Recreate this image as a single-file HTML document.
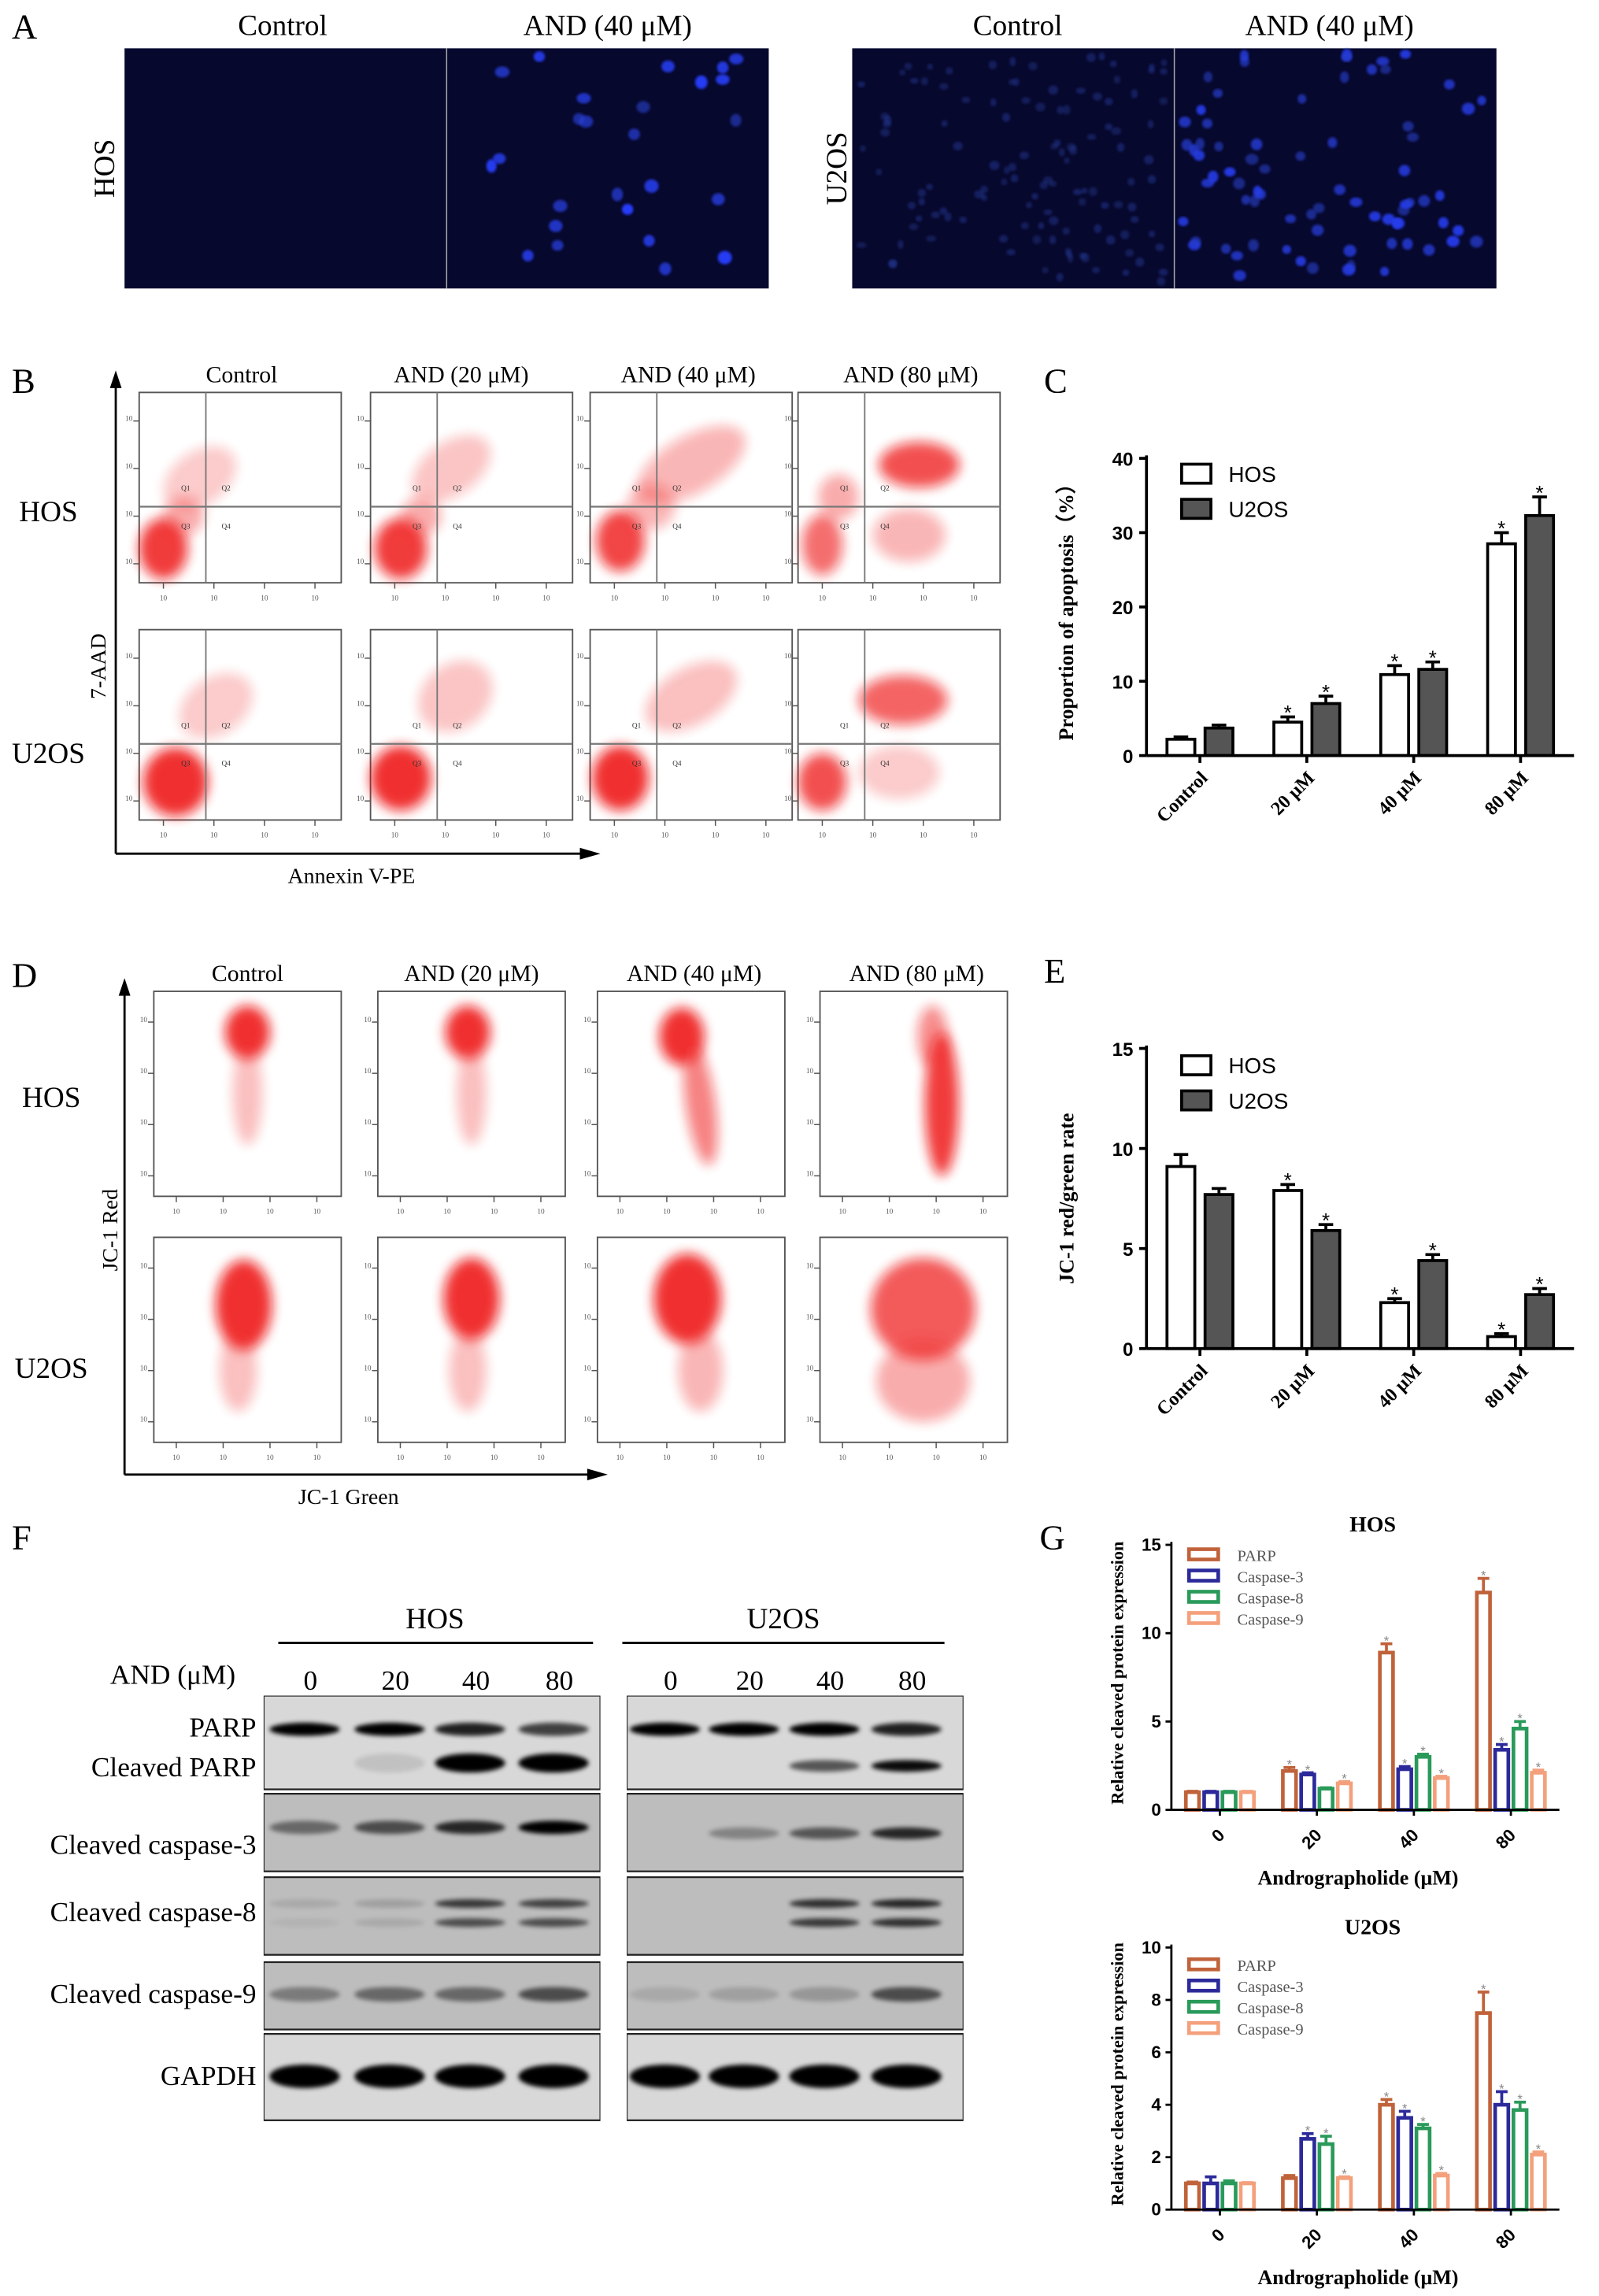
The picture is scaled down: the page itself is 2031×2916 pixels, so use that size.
<!DOCTYPE html>
<html><head><meta charset="utf-8"><style>
html,body{margin:0;padding:0;background:#fff}
svg{display:block}
text{font-family:"Liberation Serif",serif}
.sans{font-family:"Liberation Sans",sans-serif}
</style></head><body>
<svg id="fig" width="2031" height="2916" viewBox="0 0 1092 1568" xmlns="http://www.w3.org/2000/svg">
<defs>
<filter id="blur4" x="-50%" y="-50%" width="200%" height="200%"><feGaussianBlur stdDeviation="4"/></filter>
<filter id="blur2" x="-50%" y="-50%" width="200%" height="200%"><feGaussianBlur stdDeviation="1.6"/></filter>
<filter id="blur1"><feGaussianBlur stdDeviation="0.8"/></filter>
<clipPath id="clipF1"><rect x="180" y="1158" width="230" height="292"/></clipPath>
<clipPath id="clipF2"><rect x="428" y="1158" width="230" height="292"/></clipPath>
</defs>
<g id="root"></g>
</svg>
<script>
const NS="http://www.w3.org/2000/svg";
const root=document.getElementById('root');
function el(tag,attrs,parent,txt){const e=document.createElementNS(NS,tag);for(const k in attrs)e.setAttribute(k,attrs[k]);if(txt!==undefined)e.textContent=txt;(parent||root).appendChild(e);return e;}
function T(x,y,s,size,opts,parent){opts=opts||{};const a={x:x,y:y,'font-size':size,'text-anchor':opts.anchor||'middle',fill:opts.fill||'#000'};if(opts.weight)a['font-weight']=opts.weight;if(opts.cls)a['class']=opts.cls;if(opts.rot)a.transform='rotate('+opts.rot+' '+x+' '+y+')';return el('text',a,parent,s);}

/* ---------- panel letters ---------- */
const letters=[['A',8,26],['B',8,268],['C',713,268],['D',8,674],['E',713,671],['F',8,1058],['G',710,1058]];
letters.forEach(l=>{const t=T(l[1],l[2],l[0],24,{anchor:'start'});

});

/* ---------- Panel A micrographs ---------- */
let seed=7;function rnd(){seed=(seed*16807)%2147483647;return seed/2147483647;}
const aImgs=[[85,'hos-control',0,0.15,3],[305,'hos-and40',26,1,3.5],[582,'u2os-control',120,0.25,2],[802,'u2os-and40',75,0.9,3]];
aImgs.forEach(a=>{
 const g=el('g',{});
 
 
 el('rect',{x:a[0],y:33,width:220,height:164,fill:'#07082e'},g);
 for(let i=0;i<a[2];i++){const bright=a[3]*(0.5+0.5*rnd());
  el('ellipse',{cx:a[0]+6+rnd()*208,cy:37+rnd()*156,rx:a[4]+rnd()*1.5,ry:a[4]+rnd()*1.2,fill:'rgb(40,60,'+Math.round(130+125*bright)+')',opacity:0.3+0.7*bright,filter:'url(#blur1)'},g);}
});
el('line',{x1:305,y1:33,x2:305,y2:197,stroke:'#aaa','stroke-width':0.8});
el('line',{x1:802,y1:33,x2:802,y2:197,stroke:'#aaa','stroke-width':0.8});
[[193,'Control'],[415,'AND (40 μM)'],[695,'Control'],[908,'AND (40 μM)']].forEach(c=>{const t=T(c[0],24,c[1],20);

});
const ah=T(78,115,'HOS',20,{rot:-90});


const au=T(578,115,'U2OS',20,{rot:-90});



/* ---------- scatter plot helper ---------- */
function scatterBox(x,y,w,h,blobs,quad,name){
 const g=el('g',{});
 
 
 el('rect',{x:x,y:y,width:w,height:h,fill:'#fff',stroke:'#555','stroke-width':1},g);
 const cg=el('g',{opacity:0.85},g);
 blobs.forEach(b=>{el('ellipse',{cx:x+b[0]*w,cy:y+b[1]*h,rx:b[2]*w,ry:b[3]*h,fill:'#ee1111',opacity:b[4],filter:'url(#blur4)',transform:b[5]?'rotate('+b[5]+' '+(x+b[0]*w)+' '+(y+b[1]*h)+')':''},cg);});
 if(quad){el('line',{x1:x+quad[0]*w,y1:y,x2:x+quad[0]*w,y2:y+h,stroke:'#777','stroke-width':1},g);
  el('line',{x1:x,y1:y+quad[1]*h,x2:x+w,y2:y+quad[1]*h,stroke:'#777','stroke-width':1.2},g);
  [['Q1',-0.1,-0.1],['Q2',0.1,-0.1],['Q3',-0.1,0.1],['Q4',0.1,0.1]].forEach(q=>T(x+(quad[0]+q[1])*w,y+(quad[1]+q[2])*h+2,q[0],5,{fill:'#333'},g));}
 for(let i=0;i<4;i++){const tx=x+w*(0.12+i*0.25);el('line',{x1:tx,y1:y+h,x2:tx,y2:y+h+4,stroke:'#555','stroke-width':0.8},g);T(tx,y+h+12,'10',5,{fill:'#555'},g);
  const ty=y+h*(0.9-i*0.25);el('line',{x1:x,y1:ty,x2:x-4,y2:ty,stroke:'#555','stroke-width':0.8},g);T(x-7,ty,'10',5,{fill:'#555'},g);}
 return g;
}
/* Panel B */
const bX=[95,253,403,545],bY=[268,430],bW=138,bH=130;
const bBlobs=[
 [[[0.12,0.82,0.12,0.16,0.95],[0.3,0.45,0.2,0.14,0.25,-35],[0.22,0.65,0.1,0.1,0.4]],
  [[0.15,0.82,0.13,0.16,0.95],[0.4,0.4,0.22,0.14,0.28,-35],[0.25,0.65,0.1,0.1,0.4]],
  [[0.15,0.78,0.12,0.16,0.9],[0.5,0.38,0.3,0.15,0.35,-30],[0.3,0.6,0.12,0.12,0.35]],
  [[0.12,0.8,0.1,0.16,0.7],[0.6,0.38,0.2,0.12,0.85],[0.55,0.75,0.18,0.14,0.35],[0.2,0.55,0.1,0.12,0.4]]],
 [[[0.18,0.8,0.16,0.18,1],[0.38,0.4,0.2,0.15,0.25,-35]],
  [[0.15,0.78,0.15,0.17,1],[0.42,0.35,0.2,0.17,0.28,-40]],
  [[0.15,0.78,0.14,0.17,1],[0.5,0.35,0.25,0.15,0.3,-30]],
  [[0.12,0.8,0.12,0.15,0.85],[0.52,0.37,0.22,0.13,0.75],[0.5,0.75,0.2,0.14,0.25]]]];
const bNames=['control','and20','and40','and80'],rows=['hos','u2os'];
for(let r=0;r<2;r++)for(let c=0;c<4;c++)scatterBox(bX[c],bY[r],bW,bH,bBlobs[r][c],[0.33,0.6],'flow-annexin-'+rows[r]+'-'+bNames[c]);
[[165,'Control'],[315,'AND (20 μM)'],[470,'AND (40 μM)'],[622,'AND (80 μM)']].forEach(c=>{const t=T(c[0],261,c[1],16);

});
[[33,356,'HOS'],[33,521,'U2OS']].forEach(c=>{const t=T(c[0],c[1],c[2],20);

});
function arrows(x0,yb,ytop,xr){
 el('line',{x1:x0,y1:yb,x2:x0,y2:ytop+10,stroke:'#000','stroke-width':1.5});
 el('polygon',{points:(x0-4)+','+(ytop+12)+' '+x0+','+ytop+' '+(x0+4)+','+(ytop+12),fill:'#000'});
 el('line',{x1:x0,y1:yb,x2:xr-10,y2:yb,stroke:'#000','stroke-width':1.5});
 el('polygon',{points:(xr-14)+','+(yb-4)+' '+xr+','+yb+' '+(xr-14)+','+(yb+4),fill:'#000'});
}
arrows(79,583,253,410);
let t1=T(72,455,'7-AAD',15,{rot:-90});


t1=T(240,603,'Annexin V-PE',15);



/* Panel D */
const dX=[105,258,408,560],dY=[677,845],dW=128,dH=140;
const dBlobs=[
 [[[0.5,0.2,0.12,0.13,1],[0.5,0.5,0.08,0.25,0.3]],
  [[0.48,0.2,0.12,0.13,1],[0.5,0.5,0.08,0.25,0.3]],
  [[0.45,0.22,0.12,0.14,1],[0.55,0.55,0.08,0.3,0.6,-8]],
  [[0.6,0.22,0.08,0.15,0.55],[0.65,0.55,0.09,0.35,0.95]]],
 [[[0.48,0.33,0.15,0.22,1],[0.45,0.65,0.1,0.2,0.3]],
  [[0.5,0.3,0.15,0.2,1],[0.48,0.65,0.1,0.2,0.3]],
  [[0.48,0.3,0.18,0.22,1],[0.55,0.65,0.12,0.2,0.35]],
  [[0.55,0.35,0.28,0.25,0.8],[0.55,0.7,0.25,0.2,0.4]]]];
for(let r=0;r<2;r++)for(let c=0;c<4;c++)scatterBox(dX[c],dY[r],dW,dH,dBlobs[r][c],null,'flow-jc1-'+rows[r]+'-'+bNames[c]);
[[169,'Control'],[322,'AND (20 μM)'],[474,'AND (40 μM)'],[626,'AND (80 μM)']].forEach(c=>{const t=T(c[0],670,c[1],16);

});
[[35,756,'HOS'],[35,941,'U2OS']].forEach(c=>{const t=T(c[0],c[1],c[2],20);

});
arrows(85,1007,668,415);
t1=T(80,840,'JC-1 Red',15,{rot:-90});


t1=T(238,1027,'JC-1 Green',15);



/* ---------- Bar charts C and E ---------- */
const cCategories=['Control','20 μM','40 μM','80 μM'];
const cHOS=[2.2,4.5,10.9,28.5];
const cHOSerr=[0.3,0.7,1.2,1.5];
const cU2OS=[3.7,7.0,11.6,32.3];
const cU2OSerr=[0.4,1.0,1.0,2.5];
const cStar=[false,true,true,true];
const cTicks=[0,10,20,30,40];
const eCategories=['Control','20 μM','40 μM','80 μM'];
const eHOS=[9.1,7.9,2.3,0.6];
const eHOSerr=[0.6,0.3,0.2,0.15];
const eU2OS=[7.7,5.9,4.4,2.7];
const eU2OSerr=[0.3,0.3,0.3,0.3];
const eStar=[false,true,true,true];
const eTicks=[0,5,10,15];

function pairChart(cfg){
 const g=el('g',{});
 
 
 const yS=v=>cfg.y0-(v/cfg.max)*(cfg.y0-cfg.yTop);
 const band=(cfg.xEnd-cfg.x0)/cfg.cats.length;
 const xC=i=>cfg.x0+band*(i+0.5);
 cfg.ticks.forEach(t=>{const y=yS(t);el('line',{x1:cfg.x0-5,y1:y,x2:cfg.x0,y2:y,stroke:'#000','stroke-width':2},g);
  T(cfg.x0-9,y+5,String(t),13,{anchor:'end',weight:'bold',cls:'sans'},g);});
 cfg.cats.forEach((c,i)=>{
  [[cfg.s1,cfg.e1,'#fff',-13,'hos'],[cfg.s2,cfg.e2,'#555',13,'u2os']].forEach(s=>{
   const v=s[0][i],e=s[1][i],cx=xC(i)+s[3],w=19;
   const top=yS(v);
   const b=el('rect',{x:cx-w/2,y:top,width:w,height:cfg.y0-top,fill:s[2],stroke:'#000','stroke-width':2},g);
   
   
   const ye=yS(v+e);
   el('line',{x1:cx,y1:top,x2:cx,y2:ye,stroke:'#000','stroke-width':2},g);
   el('line',{x1:cx-5,y1:ye,x2:cx+5,y2:ye,stroke:'#000','stroke-width':2},g);
   if(cfg.star[i])T(cx,ye+2,'*',14,{cls:'sans'},g);
  });
  el('line',{x1:xC(i),y1:cfg.y0,x2:xC(i),y2:cfg.y0+5,stroke:'#000','stroke-width':2},g);
  T(xC(i)+6,cfg.y0+16,c,13,{anchor:'end',weight:'bold',rot:-45},g);
 });
 el('line',{x1:cfg.x0,y1:cfg.yTop-2,x2:cfg.x0,y2:cfg.y0,stroke:'#000','stroke-width':2},g);
 el('line',{x1:cfg.x0,y1:cfg.y0,x2:cfg.xEnd,y2:cfg.y0,stroke:'#000','stroke-width':2},g);
 el('rect',{x:cfg.x0+24,y:cfg.legY-7,width:20,height:13,fill:'#fff',stroke:'#000','stroke-width':2},g);
 T(cfg.x0+56,cfg.legY+5,'HOS',15,{anchor:'start',cls:'sans'},g);
 el('rect',{x:cfg.x0+24,y:cfg.legY+17,width:20,height:13,fill:'#555',stroke:'#000','stroke-width':2},g);
 T(cfg.x0+56,cfg.legY+29,'U2OS',15,{anchor:'start',cls:'sans'},g);
 const yl=T(cfg.x0-50,(cfg.y0+cfg.yTop)/2,cfg.ylabel,14,{weight:'bold',rot:-90},g);
 
 
}
pairChart({name:'chart-apoptosis',x0:783,xEnd:1075,y0:516,yTop:313,max:40,ticks:cTicks,cats:cCategories,s1:cHOS,e1:cHOSerr,s2:cU2OS,e2:cU2OSerr,star:cStar,legY:324,ylabel:'Proportion of apoptosis（%）'});
pairChart({name:'chart-jc1-ratio',x0:783,xEnd:1075,y0:921,yTop:716,max:15,ticks:eTicks,cats:eCategories,s1:eHOS,e1:eHOSerr,s2:eU2OS,e2:eU2OSerr,star:eStar,legY:728,ylabel:'JC-1 red/green rate'});

/* ---------- Panel F western blots ---------- */
t1=T(297,1112,'HOS',20);


t1=T(535,1112,'U2OS',20);


el('line',{x1:190,y1:1122,x2:405,y2:1122,stroke:'#000','stroke-width':1.5});
el('line',{x1:425,y1:1122,x2:645,y2:1122,stroke:'#000','stroke-width':1.5});
T(118,1150,'AND (μM)',19);
const doses=['0','20','40','80'];
const lx1=[212,270,325,382],lx2=[458,512,567,623];
doses.forEach((d,i)=>{T(lx1[i],1154,d,19);T(lx2[i],1154,d,19);});
const rowsF=[[1158,1222,'PARP'],[1225,1278,'caspase-3'],[1282,1335,'caspase-8'],[1340,1386,'caspase-9'],[1389,1448,'GAPDH']];
[[180,'hos',lx1,'clipF1'],[428,'u2os',lx2,'clipF2']].forEach(b=>{
 const g=el('g',{'clip-path':'url(#'+b[3]+')'});
 
 
 rowsF.forEach(r=>{el('rect',{x:b[0],y:r[0],width:230,height:r[1]-r[0],fill:r[2]==='GAPDH'||r[2]==='PARP'?'#d8d8d8':'#bdbdbd',stroke:'#222','stroke-width':1.2},g);});
 const L=b[2];
 const bands=b[1]==='hos'?[
  [1181,[1,1,0.85,0.7],4.5],[1204,[0,0.1,1,1],6.5],[1248,[0.45,0.6,0.8,1],4.5],[1300,[0.1,0.15,0.7,0.65],3],[1313,[0.05,0.1,0.6,0.6],3],[1362,[0.35,0.45,0.45,0.6],5],[1418,[1,1,1,1],8]
 ]:[
  [1181,[1,1,1,0.85],4.5],[1206,[0,0,0.6,0.95],4],[1252,[0,0.3,0.55,0.8],4],[1300,[0,0,0.75,0.8],3],[1313,[0,0,0.7,0.75],3],[1362,[0.1,0.15,0.2,0.6],5],[1418,[1,1,1,1],8]];
 bands.forEach(bd=>bd[1].forEach((a,i)=>{if(a>0)el('ellipse',{cx:L[i]-4,cy:bd[0],rx:24,ry:bd[2],fill:'#050505',opacity:a,filter:'url(#blur2)'},g);}));
});
[[1186,'PARP'],[1213,'Cleaved PARP'],[1266,'Cleaved caspase-3'],[1312,'Cleaved caspase-8'],[1368,'Cleaved caspase-9'],[1424,'GAPDH']].forEach(r=>{const t=T(175,r[0],r[1],19,{anchor:'end'});

});

/* ---------- Panel G grouped bars ---------- */
const gCategories=['0','20','40','80'];
const gSeries=['PARP','Caspase-3','Caspase-8','Caspase-9'];
const gHOS_PARP=[1,2.2,8.9,12.3];
const gHOS_C3=[1,2.0,2.3,3.4];
const gHOS_C8=[1,1.2,3.0,4.6];
const gHOS_C9=[1,1.5,1.8,2.1];
const gHOSerr=[[0.05,0.2,0.5,0.8],[0.05,0.1,0.15,0.3],[0.05,0.05,0.15,0.4],[0.05,0.1,0.1,0.15]];
const gU2_PARP=[1,1.2,4.0,7.5];
const gU2_C3=[1,2.7,3.5,4.0];
const gU2_C8=[1,2.5,3.1,3.8];
const gU2_C9=[1,1.2,1.3,2.1];
const gU2err=[[0.05,0.1,0.2,0.8],[0.25,0.2,0.25,0.5],[0.1,0.3,0.15,0.3],[0.03,0.05,0.08,0.1]];
const gHOSstar=[[0,1,1,1],[0,1,1,1],[0,0,1,1],[0,1,1,1]];
const gU2star=[[0,0,1,1],[0,1,1,1],[0,1,1,1],[0,1,1,1]];
const gTicksHOS=[0,5,10,15];
const gTicksU2=[0,2,4,6,8,10];
const gColors=['#c0623a','#2c2a9a','#2a9a5a','#f4a07c'];

function groupChart(cfg){
 const g=el('g',{});
 
 
 const yS=v=>cfg.y0-(v/cfg.max)*(cfg.y0-cfg.yTop);
 const band=(cfg.xEnd-cfg.x0)/gCategories.length;
 const xC=i=>cfg.x0+band*(i+0.5);
 cfg.ticks.forEach(t=>{const y=yS(t);el('line',{x1:cfg.x0-4,y1:y,x2:cfg.x0,y2:y,stroke:'#000','stroke-width':1.5},g);
  T(cfg.x0-7,y+4,String(t),12,{anchor:'end',weight:'bold',cls:'sans'},g);});
 gCategories.forEach((c,i)=>{
  cfg.series.forEach((s,k)=>{
   const v=s[i],e=cfg.err[k][i],cx=xC(i)+(k-1.5)*12.5,w=9;
   const top=yS(v);
   const b=el('rect',{x:cx-w/2,y:top,width:w,height:cfg.y0-top,fill:'#fff',stroke:gColors[k],'stroke-width':2.5},g);
   
   
   const ye=yS(v+e);
   el('line',{x1:cx,y1:top,x2:cx,y2:ye,stroke:gColors[k],'stroke-width':2},g);
   el('line',{x1:cx-4,y1:ye,x2:cx+4,y2:ye,stroke:gColors[k],'stroke-width':2},g);
   if(cfg.star[k][i])T(cx,ye+1,'*',9,{fill:'#888',cls:'sans'},g);
  });
  el('line',{x1:xC(i),y1:cfg.y0,x2:xC(i),y2:cfg.y0+4,stroke:'#000','stroke-width':1.5},g);
  T(xC(i)+4,cfg.y0+18,c,12,{anchor:'end',weight:'bold',rot:-45,cls:'sans'},g);
 });
 el('line',{x1:cfg.x0,y1:cfg.yTop-2,x2:cfg.x0,y2:cfg.y0,stroke:'#000','stroke-width':1.5},g);
 el('line',{x1:cfg.x0,y1:cfg.y0,x2:cfg.xEnd,y2:cfg.y0,stroke:'#000','stroke-width':1.5},g);
 gSeries.forEach((s,k)=>{const ly=cfg.legY+k*14.5;
  const lr=el('rect',{x:cfg.x0+12,y:ly-4,width:20,height:7,fill:'#fff',stroke:gColors[k],'stroke-width':2.5},g);
  
  
  T(cfg.x0+45,ly+4,s,11,{anchor:'start',fill:'#555'},g);});
 T((cfg.x0+cfg.xEnd)/2+5,cfg.yTop-9,cfg.title,15,{weight:'bold'},g);
 const yl=T(cfg.x0-33,(cfg.y0+cfg.yTop)/2-3,'Relative cleaved protein expression',12,{weight:'bold',rot:-90},g);
 
 
 const xl=T((cfg.x0+cfg.xEnd)/2-5,cfg.y0+51,'Andrographolide (μM)',14,{weight:'bold'},g);
 
 
}
groupChart({name:'chart-cleaved-hos',title:'HOS',x0:800,xEnd:1065,y0:1236,yTop:1055,max:15,ticks:gTicksHOS,series:[gHOS_PARP,gHOS_C3,gHOS_C8,gHOS_C9],err:gHOSerr,star:gHOSstar,legY:1062});
groupChart({name:'chart-cleaved-u2os',title:'U2OS',x0:800,xEnd:1065,y0:1509,yTop:1330,max:10,ticks:gTicksU2,series:[gU2_PARP,gU2_C3,gU2_C8,gU2_C9],err:gU2err,star:gU2star,legY:1342});
</script>
</body></html>
